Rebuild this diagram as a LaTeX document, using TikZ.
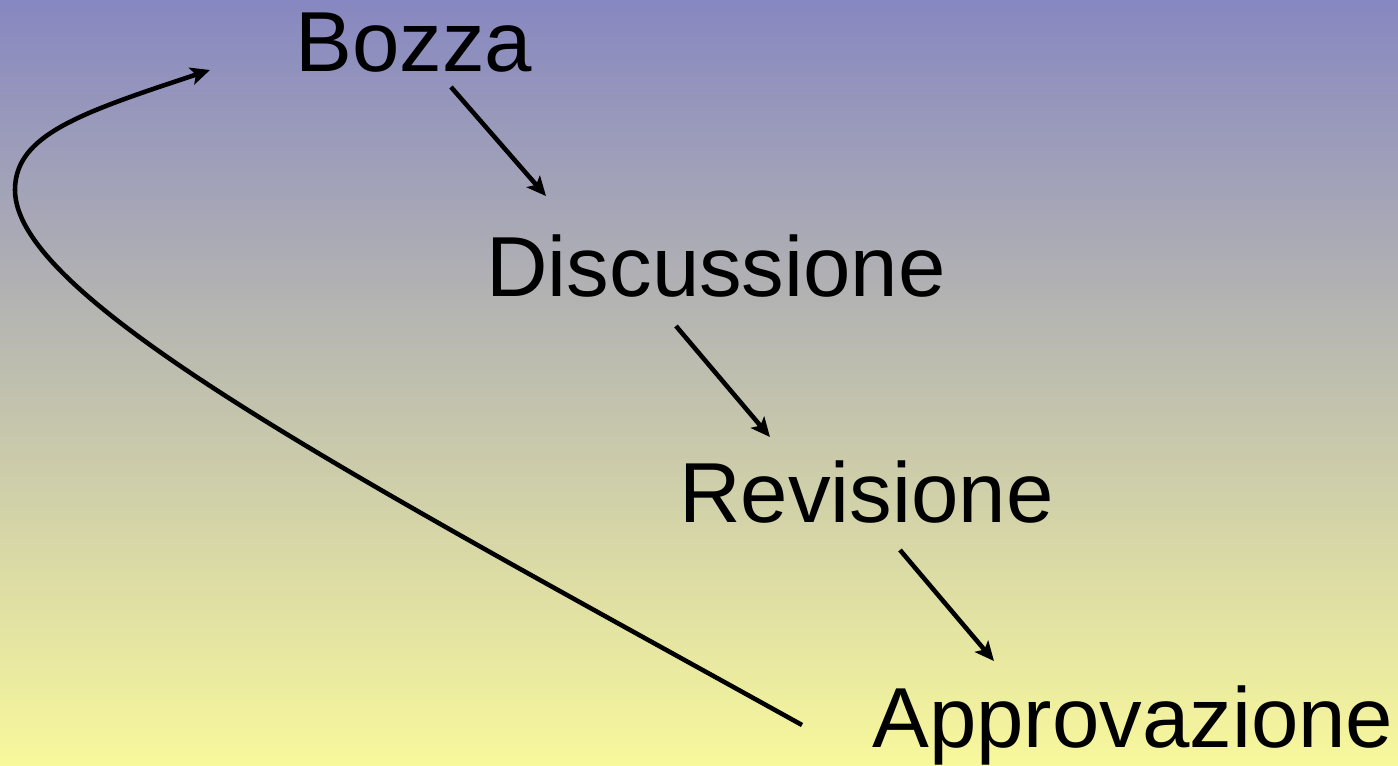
\documentclass[tikz,border=0pt]{standalone}
\usepackage{fontspec}
\setmainfont{Liberation Sans}
\usetikzlibrary{arrows.meta}
\definecolor{topblue}{RGB}{135,135,193}
\definecolor{botyellow}{RGB}{248,248,156}
\begin{document}
\begin{tikzpicture}[x=0.02cm,y=-0.02cm,
    stage/.style={anchor=base west,inner sep=0pt,font=\fontsize{48.5}{58}\selectfont},
    flow/.style={line width=2.6pt,-{Stealth[length=11pt,width=10pt,inset=2.5pt]}}]
    \shade[top color=topblue,bottom color=botyellow] (0,0) rectangle (1398,766);
    \useasboundingbox (0,0) rectangle (1398,766);
    \node[stage] (bozza) at (295,72) {Bozza};
    \node[stage] (discussione) at (486,297) {Discussione};
    \node[stage] (revisione) at (679,522) {Revisione};
    \node[stage] (approvazione) at (872,747) {Approvazione};
    \coordinate (turn) at (15,190);
    \draw[flow] ([xshift=3.12cm,yshift=-0.3cm]bozza.base west) -- ([xshift=1.2cm,yshift=2.02cm]discussione.base west);
    \draw[flow] ([xshift=3.8cm,yshift=-0.58cm]discussione.base west) -- ([xshift=1.82cm,yshift=1.7cm]revisione.base west);
    \draw[flow] ([xshift=4.42cm,yshift=-0.56cm]revisione.base west) -- ([xshift=2.44cm,yshift=1.72cm]approvazione.base west);
    % way back to the first draft
    \draw[flow] ([xshift=-1.4cm,yshift=0.44cm]approvazione.base west)
        .. controls (360,480) and (15,300) .. (turn)
        .. controls (15,135) and (80,113) .. ([xshift=-1.7cm,yshift=0.04cm]bozza.base west);
\end{tikzpicture}
\end{document}
